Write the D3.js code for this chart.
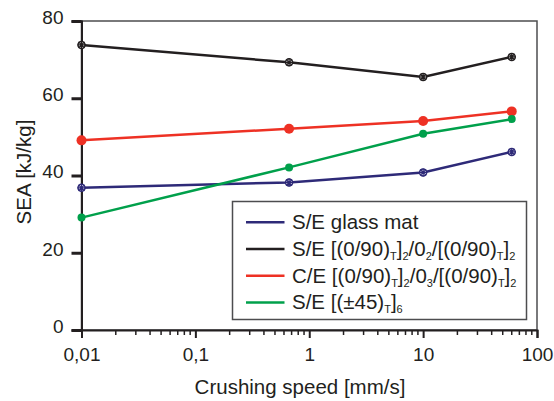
<!DOCTYPE html>
<html>
<head>
<meta charset="utf-8">
<script src="https://cdn.jsdelivr.net/npm/d3@7"></script>
<style>
  body { margin: 0; background: #fff; }
  text { font-family: "Liberation Sans", Arial, sans-serif; fill: #231f20; }
</style>
</head>
<body>
<div id="chart"></div>
<script>
// datos
const speeds = [0.01, 0.665, 10, 60];
const glassMat = [36.8, 38.2, 40.8, 46.1];
const glass090 = [73.8, 69.3, 65.5, 70.7];
const carbon090 = [49.1, 52.1, 54.1, 56.6];
const glass45 = [29.1, 42.1, 50.8, 54.6];
const yTicks = [0, 20, 40, 60, 80];
const xTicks = [0.01, 0.1, 1, 10, 100];
const xTickLabels = ["0,01", "0,1", "1", "10", "100"];

// leyenda: partes de texto [texto, esSubindice]
const series = [
  { values: glassMat, color: "#2e2a78", marker: "cross", label: [["S/E glass mat", false]] },
  { values: glass090, color: "#231f20", marker: "cross", label: [["S/E [(0/90)", false], ["T", true], ["]", false], ["2", true], ["/0", false], ["2", true], ["/[(0/90)", false], ["T", true], ["]", false], ["2", true]] },
  { values: carbon090, color: "#ee3124", marker: "big", label: [["C/E [(0/90)", false], ["T", true], ["]", false], ["2", true], ["/0", false], ["3", true], ["/[(0/90)", false], ["T", true], ["]", false], ["2", true]] },
  { values: glass45, color: "#00a04b", marker: "dot", label: [["S/E [(±45)", false], ["T", true], ["]", false], ["6", true]] }
];

const width = 554, height = 401;
const margin = { left: 81.5, right: 17, top: 21, bottom: 71 };

const svg = d3.select("#chart").append("svg")
  .attr("width", width).attr("height", height);

const x = d3.scaleLog().domain([0.01, 100]).range([margin.left, width - margin.right]);
const y = d3.scaleLinear().domain([0, 80]).range([height - margin.bottom, margin.top]);

// marco del gráfico
svg.append("rect")
  .attr("x", x(0.01)).attr("y", y(80))
  .attr("width", x(100) - x(0.01)).attr("height", y(0) - y(80))
  .attr("fill", "none").attr("stroke", "#4d4d4f").attr("stroke-width", 1.5);

// eje Y
const yAxis = svg.append("g")
  .attr("transform", `translate(${x(0.01)},0)`)
  .call(d3.axisLeft(y).tickValues(yTicks).tickSize(10).tickPadding(8));
yAxis.select(".domain").attr("stroke", "#231f20").attr("stroke-width", 2);
yAxis.selectAll(".tick line").attr("stroke", "#231f20").attr("stroke-width", 3);
yAxis.selectAll(".tick text").attr("font-size", 19).attr("fill", "#231f20")
  .attr("dy", "0.12em")
  .style("font-family", "Liberation Sans, Arial, sans-serif");

// eje X con marcas menores
const minor = [];
for (let e = -2; e < 2; e++) for (let m = 2; m <= 9; m++) minor.push(m * Math.pow(10, e));
svg.append("g")
  .attr("transform", `translate(0,${y(0)})`)
  .selectAll("line").data(minor).enter().append("line")
  .attr("x1", d => x(d)).attr("x2", d => x(d))
  .attr("y1", 0).attr("y2", 5)
  .attr("stroke", "#231f20").attr("stroke-width", 1.5);

const xAxis = svg.append("g")
  .attr("transform", `translate(0,${y(0)})`)
  .call(d3.axisBottom(x).tickValues(xTicks).tickSize(8).tickPadding(10)
    .tickFormat((d, i) => xTickLabels[i]));
xAxis.select(".domain").attr("stroke", "#231f20").attr("stroke-width", 2);
xAxis.selectAll(".tick line").attr("stroke", "#231f20").attr("stroke-width", 2);
xAxis.selectAll(".tick text").attr("font-size", 19).attr("fill", "#231f20")
  .style("font-family", "Liberation Sans, Arial, sans-serif");

// títulos de ejes
svg.append("text")
  .attr("x", 300).attr("y", 394)
  .attr("text-anchor", "middle").attr("font-size", 20.5)
  .text("Crushing speed [mm/s]");
svg.append("text")
  .attr("transform", `translate(31,172) rotate(-90)`)
  .attr("text-anchor", "middle").attr("font-size", 20.5)
  .text("SEA [kJ/kg]");

// series
const line = d3.line().x((d, i) => x(speeds[i])).y(d => y(d));
series.forEach(s => {
  svg.append("path")
    .attr("d", line(s.values))
    .attr("fill", "none").attr("stroke", s.color).attr("stroke-width", 2.5);
  const pts = svg.append("g").selectAll("g").data(s.values).enter().append("g")
    .attr("transform", (d, i) => `translate(${x(speeds[i])},${y(d)})`);
  if (s.marker === "big") {
    pts.append("circle").attr("r", 5).attr("fill", s.color);
  } else if (s.marker === "dot") {
    pts.append("circle").attr("r", 4).attr("fill", s.color);
  } else {
    pts.append("circle").attr("r", 3.5).attr("fill", "#fff")
      .attr("stroke", s.color).attr("stroke-width", 1.5);
    pts.append("path").attr("d", "M-4,0H4M0,-4V4M-3,-3L3,3M-3,3L3,-3")
      .attr("stroke", s.color).attr("stroke-width", 1.2);
  }
});

// leyenda
const legend = svg.append("g");
legend.append("rect")
  .attr("x", 232.5).attr("y", 201.5).attr("width", 294).attr("height", 118)
  .attr("fill", "#fff").attr("stroke", "#4d4d4f").attr("stroke-width", 1.5);
series.forEach((s, i) => {
  const yy = 222.3 + i * 26.7;
  legend.append("line")
    .attr("x1", 246).attr("x2", 284.5).attr("y1", yy).attr("y2", yy)
    .attr("stroke", s.color).attr("stroke-width", 2.5);
  const t = legend.append("text")
    .attr("x", 292).attr("y", yy + 7).attr("font-size", 20.5);
  let sub = false;
  s.label.forEach(([txt, isSub]) => {
    const ts = t.append("tspan").text(txt);
    if (isSub && !sub) ts.attr("dy", 4).attr("font-size", 11);
    else if (isSub) ts.attr("font-size", 11);
    else if (sub) ts.attr("dy", -4);
    sub = isSub;
  });
});
</script>
</body>
</html>
